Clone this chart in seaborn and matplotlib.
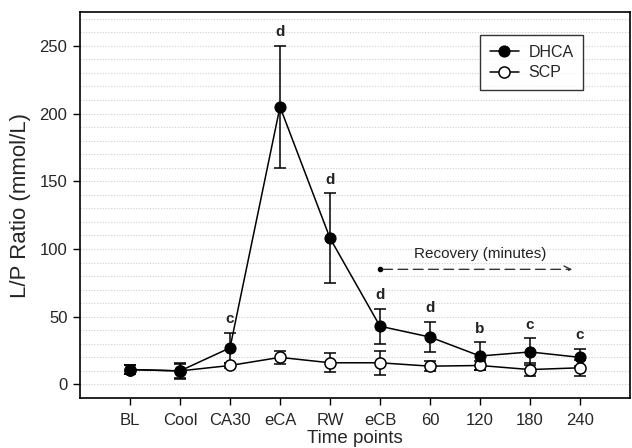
import numpy as np
import pandas as pd
import matplotlib
matplotlib.use("Agg")
import matplotlib.pyplot as plt
import seaborn as sns

categories = ["BL", "Cool", "CA30", "eCA", "RW", "eCB", "60", "120", "180", "240"]
dhca_mean = [11, 10, 27, 205, 108, 43, 35, 21, 24, 20]
dhca_err = [3, 5, 11, 45, 33, 13, 11, 10, 10, 6.5]
scp_mean = [11, 10, 14, 20, 16, 16, 13.5, 14, 11, 12.3]
scp_err = [3, 6, 2, 5, 7, 9, 3.5, 3.5, 5, 6]
sig_letters = ["", "", "c", "d", "d", "d", "d", "b", "c", "c"]
y_ticks = [0, 50, 100, 150, 200, 250]

sns.set_theme(style="white")
plt.rcParams['font.family'] = ['Liberation Sans', 'DejaVu Sans']

fig = plt.figure(figsize=(6.32, 4.48), dpi=100)
ax = fig.add_axes([80/632, 1 - 398/448, 550/632, 386/448])

x = np.arange(len(categories))
df = pd.DataFrame({
    "x": np.concatenate([x, x]),
    "y": dhca_mean + scp_mean,
    "group": ["DHCA"] * len(x) + ["SCP"] * len(x),
})

# grid
for g in range(0, 280, 10):
    ax.axhline(g, color="#cfcfcf", lw=0.8, ls=(0, (1, 1.5)), zorder=0)

ax.errorbar(x, scp_mean, yerr=scp_err, fmt="none", ecolor="black",
            elinewidth=1.1, capsize=4, capthick=1.1, zorder=2)
ax.errorbar(x, dhca_mean, yerr=dhca_err, fmt="none", ecolor="black",
            elinewidth=1.1, capsize=4, capthick=1.1, zorder=2)

sns.lineplot(data=df[df.group == "DHCA"], x="x", y="y", ax=ax, color="black",
             marker="o", markersize=8, markerfacecolor="black",
             markeredgecolor="black", linewidth=1.1, label="DHCA", zorder=4)
sns.lineplot(data=df[df.group == "SCP"], x="x", y="y", ax=ax, color="black",
             marker="o", markersize=8, markerfacecolor="white",
             markeredgecolor="black", markeredgewidth=1.1, linewidth=1.1,
             label="SCP", zorder=3)

for xi, m, e, s in zip(x, dhca_mean, dhca_err, sig_letters):
    if s:
        ax.text(xi, m + e + 5, s, ha="center", va="bottom", fontsize=11,
                fontweight="bold", color="#222222")

# recovery arrow
ax.plot([5], [85], marker="o", markersize=3, color="black")
ax.annotate("", xy=(8.9, 85), xytext=(5, 85),
            arrowprops=dict(arrowstyle="->", linestyle=(0, (7, 4)),
                            color="#333333", lw=1.0))
ax.text(7, 91, "Recovery (minutes)", ha="center", va="bottom", fontsize=11,
        color="#222222")

ax.set_xlim(-1, 10)
ax.set_ylim(-10, 275)
ax.set_xticks(x)
ax.set_xticklabels(categories, fontsize=12)
ax.set_yticks(y_ticks)
ax.set_yticklabels([str(t) for t in y_ticks], fontsize=12)
ax.tick_params(axis="x", direction="out", length=5, width=1, color="black",
               bottom=True, pad=6)
ax.tick_params(axis="y", direction="out", length=5, width=1, color="black",
               left=True, pad=4)
ax.set_xlabel("Time points", fontsize=13.5, labelpad=1)
ax.set_ylabel("L/P Ratio (mmol/L)", fontsize=16, labelpad=6)
for sp in ax.spines.values():
    sp.set_color("black")
    sp.set_linewidth(1.2)

leg = ax.legend(loc="upper right", bbox_to_anchor=(0.9145, 0.94), fontsize=11.5,
                frameon=True, fancybox=False, edgecolor="black",
                handlelength=1.8, handletextpad=0.6, borderpad=0.6,
                labelspacing=0.35, borderaxespad=0)
leg.get_frame().set_linewidth(1.0)

fig.savefig("out.png", dpi=100)
